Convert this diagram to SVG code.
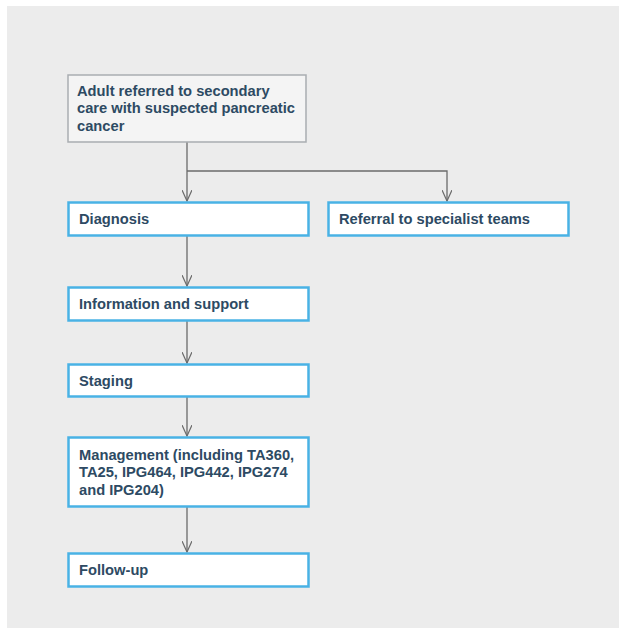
<svg xmlns="http://www.w3.org/2000/svg" width="619" height="628" viewBox="0 0 619 628">
<style>
.bx{fill:#ffffff;stroke:#49b2e5;stroke-width:2.5}
.top{fill:#f4f4f4;stroke:#a9adb1;stroke-width:1.5}
.t{font-family:"Liberation Sans",Arial,sans-serif;font-weight:bold;font-size:14.7px;fill:#2d4a63}
.c{fill:none;stroke:#6b6b6b;stroke-width:1.3}
</style>
<defs>
<marker id="ar" viewBox="0 0 12 10" refX="11" refY="5" markerWidth="12" markerHeight="10" markerUnits="userSpaceOnUse" orient="auto">
<path d="M0,0 L11,5 L0,10" fill="none" stroke="#6b6b6b" stroke-width="1.2"/>
</marker>
</defs>
<rect x="7" y="6" width="612" height="622" fill="#ececec"/>
<g id="connectors">
<path class="c" d="M187,142 V201" marker-end="url(#ar)"/>
<path class="c" d="M187,171 H447 V201" marker-end="url(#ar)"/>
<path class="c" d="M187,236 V286" marker-end="url(#ar)"/>
<path class="c" d="M187,321 V363" marker-end="url(#ar)"/>
<path class="c" d="M187,397 V436" marker-end="url(#ar)"/>
<path class="c" d="M187,507 V552" marker-end="url(#ar)"/>
</g>
<g id="n-start">
<rect class="top" x="68" y="75" width="238" height="67"/>
<text class="t" x="77" y="95.5">Adult referred to secondary</text>
<text class="t" x="77" y="113">care with suspected pancreatic</text>
<text class="t" x="77" y="130.5">cancer</text>
</g>
<g id="n-diagnosis">
<rect class="bx" x="68.5" y="202.5" width="240" height="33"/>
<text class="t" x="79" y="223.5">Diagnosis</text>
</g>
<g id="n-referral">
<rect class="bx" x="328.5" y="202.5" width="240" height="33"/>
<text class="t" x="339" y="223.5">Referral to specialist teams</text>
</g>
<g id="n-info">
<rect class="bx" x="68.5" y="287.5" width="240" height="33"/>
<text class="t" x="79" y="308.5">Information and support</text>
</g>
<g id="n-staging">
<rect class="bx" x="68.5" y="364.5" width="240" height="32"/>
<text class="t" x="79" y="385.5">Staging</text>
</g>
<g id="n-management">
<rect class="bx" x="68.5" y="437.5" width="240" height="69"/>
<text class="t" x="79" y="459.5">Management (including TA360,</text>
<text class="t" x="79" y="477">TA25, IPG464, IPG442, IPG274</text>
<text class="t" x="79" y="494.5">and IPG204)</text>
</g>
<g id="n-followup">
<rect class="bx" x="68.5" y="553.5" width="240" height="33"/>
<text class="t" x="79" y="574.5">Follow-up</text>
</g>
</svg>
